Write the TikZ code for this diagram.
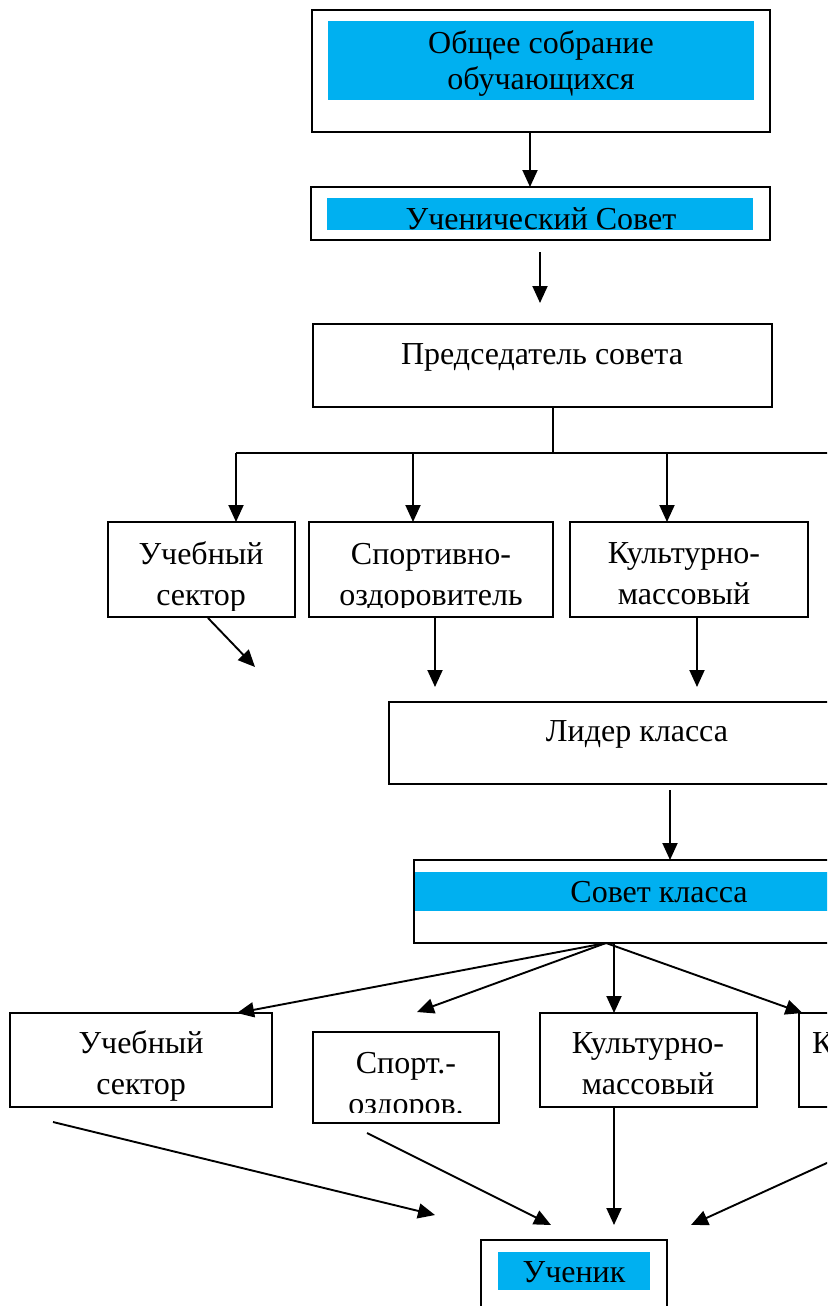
\documentclass[tikz,border=0pt]{standalone}
\usepackage{fontspec}
\setmainfont{Liberation Serif}
\usepackage{tikz}
\usetikzlibrary{arrows.meta}
\definecolor{wordblue}{RGB}{0,176,240}
\tikzset{lbl/.style={align=center, inner sep=0pt, font=\fontsize{32}{41}\selectfont}}

\begin{document}
\begin{tikzpicture}[x=1pt,y=-1pt]
	\useasboundingbox (0,0) rectangle (827,1306);
	\clip (0,0) rectangle (827,1306);
	% blue bands
	\fill [wordblue] (328,21) rectangle (754,100);
	\fill [wordblue] (327,198) rectangle (753,230);
	\fill [wordblue] (415,872) rectangle (870,911);
	\fill [wordblue] (498,1252) rectangle (650,1290);
	\begin{scope}[every node/.style = {draw, line width=1.9pt, inner sep=0pt, outer sep=0pt}]
		\node [minimum width=458, minimum height=122] (sobr) at (541,71) {};
		\node [minimum width=459, minimum height=53] (uchsov) at (540.5,213.5) {};
		\node [minimum width=459, minimum height=83] (pred) at (542.5,365.5) {};
		\node [minimum width=187, minimum height=95] (uch1) at (201.5,569.5) {};
		\node [minimum width=244, minimum height=95] (sport1) at (431,569.5) {};
		\node [minimum width=238, minimum height=95] (kult1) at (689,569.5) {};
		\node [minimum width=481, minimum height=82] (lider) at (629.5,743) {};
		\node [minimum width=456, minimum height=83] (sovkl) at (642,901.5) {};
		\node [minimum width=262, minimum height=94] (uch2) at (141,1060) {};
		\node [minimum width=186, minimum height=91] (sport2) at (406,1077.5) {};
		\node [minimum width=217, minimum height=94] (kult2) at (648.5,1060) {};
		\node [minimum width=201, minimum height=94] (k2) at (899.5,1060) {};
		\node [minimum width=186, minimum height=90] (uchenik) at (574,1285) {};
	\end{scope}
	\begin{scope}[every node/.style = {lbl}]
		\node [font=\fontsize{32}{36}\selectfont] (sobr-t) at (541,63) {Общее собрание\\обучающихся};
		\node (uchsov-t) at (541,219) {Ученический Совет};
		\node (pred-t) at (542,357) {Председатель совета};
		\node (kult1-t) at (684,574) {Культурно-\\массовый};
		\node (lider-t) at (637,734) {Лидер класса};
		\node (sovkl-t) at (659,892) {Совет класса};
		\node (uch2-t) at (141,1066) {Учебный\\сектор};
		\node (kult2-t) at (648,1064) {Культурно-\\массовый};
		\node [anchor=west] (k2-t) at (812,1043) {К};
		\node (uchenik-t) at (574,1272) {Ученик};
		% texts cut by their boxes
		\begin{scope}
			\clip (108,522) rectangle (295,610);
			\node (uch1-t) at (201,577) {Учебный\\сектор};
		\end{scope}
		\begin{scope}
			\clip (309,522) rectangle (553,607);
			\node (sport1-t) at (431,578) {Спортивно-\\оздоровитель};
		\end{scope}
		\begin{scope}
			\clip (313,1032) rectangle (499,1112);
			\node (sport2-t) at (406,1087) {Спорт.-\\оздоров.};
		\end{scope}
	\end{scope}
	% columns and free ends
	\coordinate (x530) at (530,0);
	\coordinate (x553) at (553,0);
	\coordinate (x413) at (413,0);
	\coordinate (x667) at (667,0);
	\coordinate (x435) at (435,0);
	\coordinate (x697) at (697,0);
	\coordinate (x670) at (670,0);
	\coordinate (x614) at (614,0);
	\coordinate (barL) at (236,453);
	\coordinate (barR) at (840,453);
	\coordinate (p1s) at (540,252);
	\coordinate (p1e) at (540,303);
	\coordinate (d1s) at (208,618);
	\coordinate (d1e) at (255,667);
	\coordinate (d2e) at (435,687);
	\coordinate (d3e) at (697,687);
	\coordinate (fan) at (606,943);
	\coordinate (f2e) at (417,1012);
	\coordinate (u1s) at (53,1122);
	\coordinate (u1e) at (435,1215);
	\coordinate (u2s) at (367,1133);
	\coordinate (u2e) at (551,1225);
	\coordinate (u3e) at (614,1225);
	\coordinate (u4s) at (840,1157);
	\coordinate (u4e) at (691,1225);
	\begin{scope}[>={Triangle[length=17pt,width=15pt]},
			every edge/.style={draw=black, line width=1.9pt}]
		\path [->] (x530 |- sobr.south) edge (x530 |- uchsov.north);
		\path [->] (p1s) edge (p1e);
		\path (x553 |- pred.south) edge (x553 |- barL);
		\path (barL) edge (barR);
		\path [->] (barL) edge (uch1.north -| barL);
		\path [->] (x413 |- barL) edge (x413 |- sport1.north);
		\path [->] (x667 |- barL) edge (x667 |- kult1.north);
		\path [->] (d1s) edge (d1e);
		\path [->] (x435 |- sport1.south) edge (d2e);
		\path [->] (x697 |- kult1.south) edge (d3e);
		\path [->, shorten <=6pt] (x670 |- lider.south) edge (x670 |- sovkl.north);
		\path [->] (fan) edge ([xshift=96pt]uch2.north);
		\path [->] (fan) edge (f2e);
		\path [->] (x614 |- sovkl.south) edge (x614 |- kult2.north);
		\path [->] (fan) edge ([xshift=-97pt]k2.north);
		\path [->] (u1s) edge (u1e);
		\path [->] (u2s) edge (u2e);
		\path [->] (x614 |- kult2.south) edge (u3e);
		\path [->] (u4s) edge (u4e);
	\end{scope}
\end{tikzpicture}
\end{document}
